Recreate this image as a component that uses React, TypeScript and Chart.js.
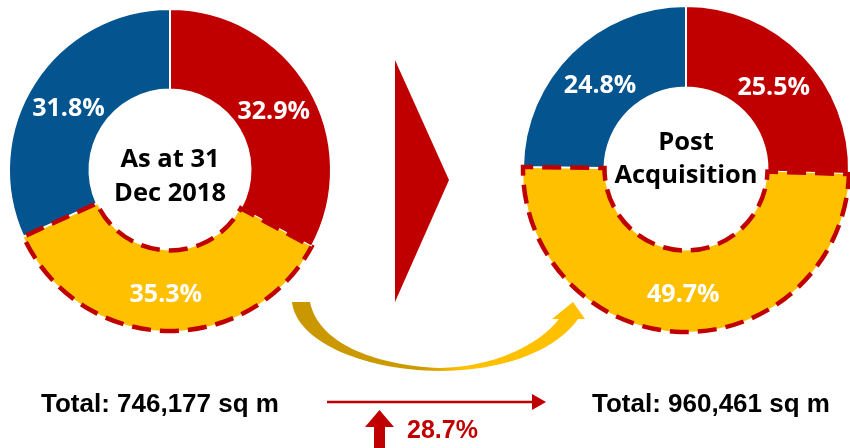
import React, { useEffect, useRef } from "react";
import { Chart, registerables } from "chart.js";

Chart.register(...registerables);

// ---- data ----
const segments = ["Segment A", "Segment B", "Segment C"];
const beforeValues = [32.9, 35.3, 31.8];
const afterValues = [25.5, 49.7, 24.8];
const segmentColors = ["#C00000", "#FFC000", "#03548F"];
const beforeTitle = ["As at 31", "Dec 2018"];
const afterTitle = ["Post", "Acquisition"];
const beforeTotal = "Total: 746,177 sq m";
const afterTotal = "Total: 960,461 sq m";
const growthLabel = "28.7%";
const highlightIndex = 1;

const RED = "#C00000";

function makePlugin(title: string[], titleOffsets: number[]) {
  return {
    id: "donutDecor",
    afterDatasetsDraw(chart: any) {
      const ctx = chart.ctx;
      const meta = chart.getDatasetMeta(0);
      const ds = chart.data.datasets[0];
      // dashed outline on highlighted slice
      const arc = meta.data[highlightIndex];
      const p = arc.getProps(["x", "y", "startAngle", "endAngle", "innerRadius", "outerRadius"], true);
      ctx.save();
      ctx.beginPath();
      ctx.arc(p.x, p.y, p.outerRadius, p.startAngle, p.endAngle);
      ctx.arc(p.x, p.y, p.innerRadius, p.endAngle, p.startAngle, true);
      ctx.closePath();
      ctx.setLineDash([19, 9]);
      ctx.lineDashOffset = 4;
      ctx.lineWidth = 4.5;
      ctx.strokeStyle = RED;
      ctx.stroke();
      ctx.restore();

      // percentage labels
      ctx.save();
      ctx.fillStyle = "#FFFFFF";
      ctx.font = "bold 25px 'Open Sans'";
      ctx.textAlign = "center";
      ctx.textBaseline = "alphabetic";
      meta.data.forEach((el: any, i: number) => {
        const c = el.getCenterPoint(true);
        ctx.fillText(ds.data[i].toFixed(1) + "%", c.x, c.y + 11);
      });
      // centre title
      const cx = p.x;
      const cy = p.y;
      ctx.fillStyle = "#000000";
      ctx.font = "bold 25.5px 'Open Sans'";
      title.forEach((line, i) => {
        ctx.fillText(line, cx, cy + titleOffsets[i]);
      });
      ctx.restore();
    },
  };
}

function Donut(props: {
  values: number[];
  title: string[];
  titleOffsets: number[];
  radius: number;
  left: number;
  top: number;
  size: number;
}) {
  const ref = useRef<HTMLCanvasElement | null>(null);
  useEffect(() => {
    if (!ref.current) return;
    const chart = new Chart(ref.current, {
      type: "doughnut",
      data: {
        labels: segments,
        datasets: [
          {
            data: props.values,
            backgroundColor: segmentColors,
            borderColor: "#FFFFFF",
            borderWidth: (c: any) => (c.dataIndex === highlightIndex ? 0 : 2),
            hoverOffset: 0,
          },
        ],
      },
      options: {
        animation: false,
        responsive: true,
        maintainAspectRatio: false,
        radius: props.radius,
        cutout: "50%",
        layout: { padding: 0 },
        events: [],
        plugins: {
          legend: { display: false },
          tooltip: { enabled: false },
        },
      } as any,
      plugins: [makePlugin(props.title, props.titleOffsets)],
    });
    return () => chart.destroy();
  }, []);
  return (
    <div
      style={{
        position: "absolute",
        left: props.left,
        top: props.top,
        width: props.size,
        height: props.size,
      }}
    >
      <canvas ref={ref} />
    </div>
  );
}

export default function App() {
  return (
    <div
      style={{
        position: "fixed",
        left: 0,
        top: 0,
        width: 850,
        height: 448,
        overflow: "hidden",
        background: "#FFFFFF",
      }}
    >
      <Donut values={beforeValues} title={beforeTitle} titleOffsets={[-3, 31]} radius={161} left={0} top={0} size={340} />
      <Donut values={afterValues} title={afterTitle} titleOffsets={[-19, 14]} radius={163} left={520} top={3} size={332} />
      <svg width={850} height={448} style={{ position: "absolute", left: 0, top: 0 }}>
        <defs>
          <linearGradient id="goldArrow" x1="292" y1="0" x2="586" y2="0" gradientUnits="userSpaceOnUse">
            <stop offset="0" stopColor="#C99700" />
            <stop offset="0.44" stopColor="#CC9A00" />
            <stop offset="0.58" stopColor="#FFC000" />
            <stop offset="1" stopColor="#FFC000" />
          </linearGradient>
        </defs>
        <polygon points="395,60 449,180 395,302" fill={RED} />
        <path
          d="M292,302 C296,340 360,370 440,371 C500,371 555,352 578,319 L585,319 L573,302 L552,319 L559,319 C540,344 495,367 440,368 C372,365 318,342 310,302 Z"
          fill="url(#goldArrow)"
        />
        <line x1={327} y1={402} x2={534} y2={402} stroke={RED} strokeWidth={2.5} />
        <polygon points="532,394 546,402 532,410" fill={RED} />
        <polygon points="379.5,410 394,427 385,427 385,448 374,448 374,427 365,427" fill={RED} />
        <text x={41} y={412} fontFamily="'Liberation Sans', Arial, sans-serif" fontWeight="bold" fontSize={26} fill="#000">
          {beforeTotal}
        </text>
        <text x={592} y={412} fontFamily="'Liberation Sans', Arial, sans-serif" fontWeight="bold" fontSize={26} fill="#000">
          {afterTotal}
        </text>
        <text x={407} y={438} fontFamily="'Liberation Sans', Arial, sans-serif" fontWeight="bold" fontSize={25} fill={RED}>
          {growthLabel}
        </text>
      </svg>
    </div>
  );
}
